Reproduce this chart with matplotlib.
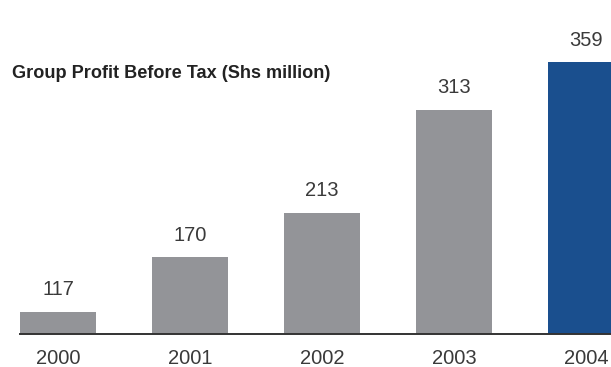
import matplotlib.pyplot as plt

years = ['2000', '2001', '2002', '2003', '2004']
profit = [117, 170, 213, 313, 359]
colors = ['#939498', '#939498', '#939498', '#939498', '#1a4f8e']

plt.rcParams['font.family'] = ['Liberation Sans', 'DejaVu Sans']

fig = plt.figure(figsize=(6.11, 3.67), dpi=100)
ax = fig.add_axes([0, 33 / 367, 1, 334 / 367])

x = range(len(years))
bars = ax.bar(x, profit, width=0.576, color=colors, bottom=0, zorder=2)

for b, v in zip(bars, profit):
    ax.annotate(str(v), (b.get_x() + b.get_width() / 2, v),
                xytext=(0, 9), textcoords='offset points',
                ha='center', va='bottom', fontsize=14.5, color='#3a3a3a')

ax.set_xlim(-58 / 132, (611 - 58) / 132)
ax.set_ylim(95.6, 95.6 + 334 / 1.032)

# baseline starts at the left edge of the first bar
ax.axhline(95.6, xmin=(20 / 611), xmax=1, color='#333333', lw=1.4,
           zorder=3, clip_on=False)

for s in ax.spines.values():
    s.set_visible(False)
ax.set_yticks([])
ax.set_xticks(list(x))
ax.set_xticklabels(years, fontsize=14.5, color='#3a3a3a')
ax.tick_params(axis='x', length=0, pad=11)

fig.text(12 / 611, 1 - 74 / 367, 'Group Profit Before Tax (Shs million)',
         fontsize=13.1, fontweight='bold', color='#222222', va='center')

fig.savefig('out.png', dpi=100)
